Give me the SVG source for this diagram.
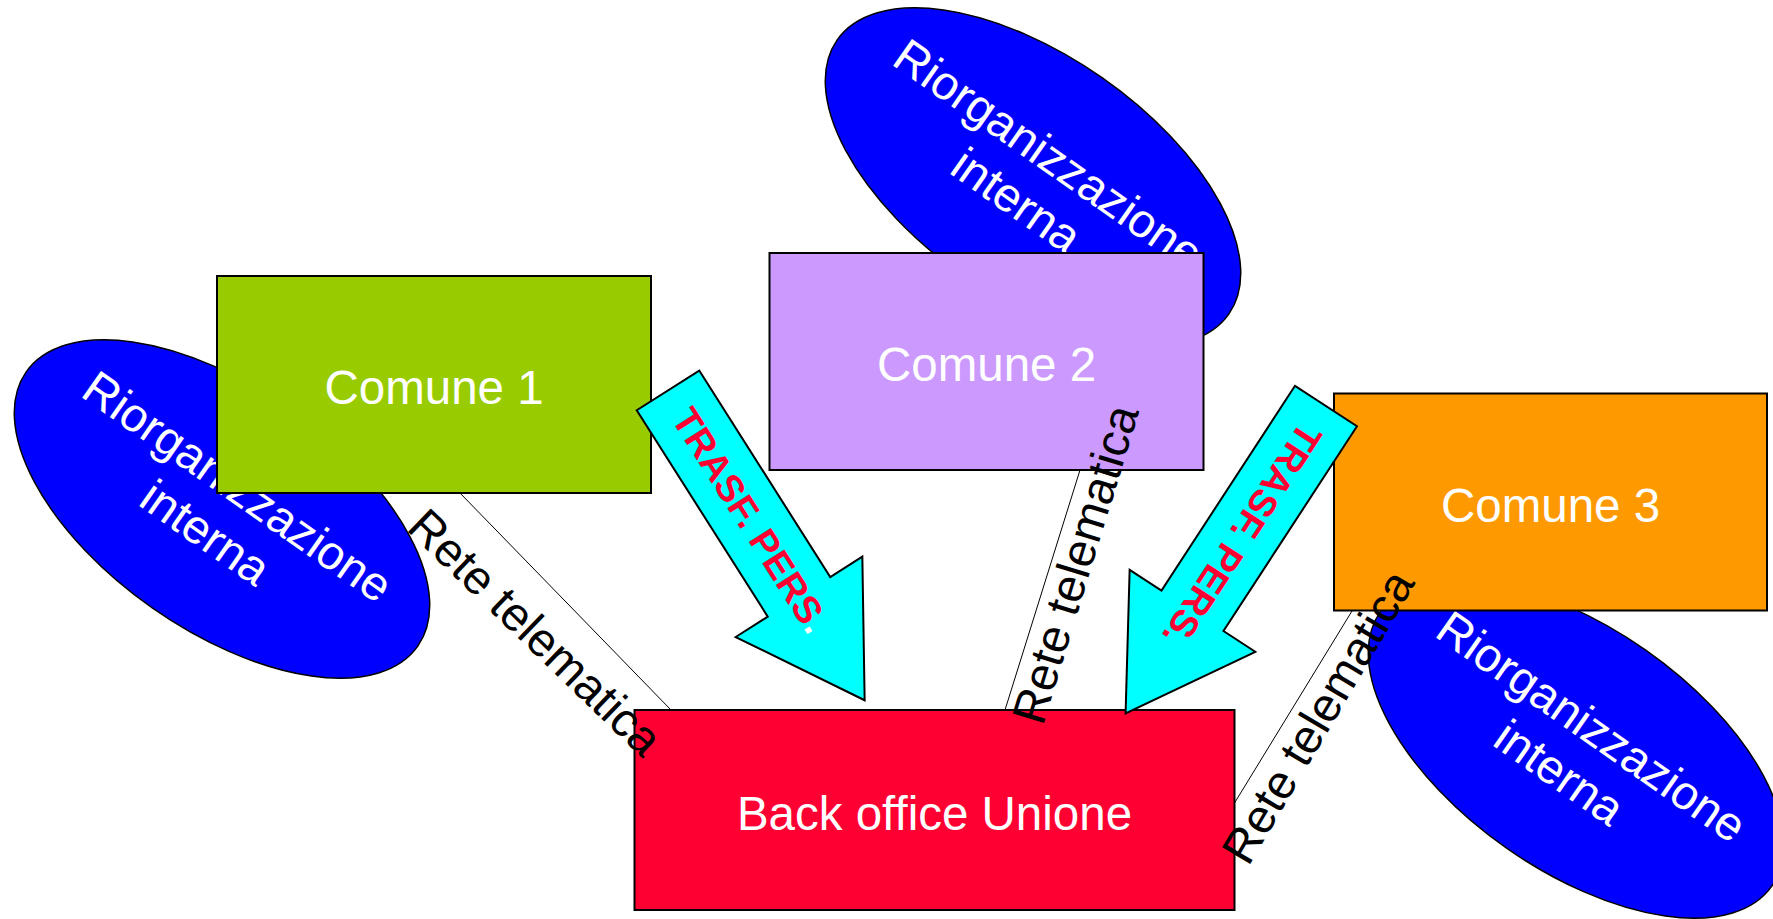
<svg xmlns="http://www.w3.org/2000/svg" width="1773" height="919" viewBox="0 0 1773 919">
<defs>
<style>
.ell{fill:#0000FF;stroke:#000;stroke-width:1.5}
.box{stroke:#000;stroke-width:2}
.wt{fill:#fff;font-family:"Liberation Sans",Arial,sans-serif;font-size:47.5px;text-anchor:middle}
.bt{fill:#000;font-family:"Liberation Sans",Arial,sans-serif;font-size:47.5px;text-anchor:middle}
.arr{fill:#00FFFF;stroke:#000;stroke-width:2;stroke-linejoin:miter}
.at{fill:#FF0033;font-family:"Liberation Sans",Arial,sans-serif;font-size:38px;font-weight:bold;text-anchor:middle}
.ln{stroke:#000;stroke-width:1;fill:none}
</style>
<path id="arrowShape" d="M0,-37 L244.5,-37 L244.5,-75 L367,0 L244.5,75 L244.5,37 L0,37 Z"/>
</defs>
<rect width="1773" height="919" fill="#fff"/>

<g id="riorg1" transform="translate(222,509) rotate(35)">
<ellipse class="ell" cx="0" cy="0" rx="239" ry="121"/>
<text class="wt"><tspan x="0" y="-11">Riorganizzazione</tspan><tspan x="0" y="45">interna</tspan></text>
</g>
<g id="comune1">
<rect class="box" x="217" y="276" width="434" height="217" fill="#99CC00"/>
<text class="wt" x="434" y="404">Comune 1</text>
</g>

<g id="riorg2" transform="translate(1033,177) rotate(35)">
<ellipse class="ell" cx="0" cy="0" rx="239" ry="121"/>
<text class="wt"><tspan x="0" y="-11">Riorganizzazione</tspan><tspan x="0" y="45">interna</tspan></text>
</g>
<g id="comune2">
<rect class="box" x="769.5" y="253" width="434" height="217" fill="#CC99FF"/>
<text class="wt" x="986.5" y="381">Comune 2</text>
</g>

<g id="riorg3" transform="translate(1576,749) rotate(35)">
<ellipse class="ell" cx="0" cy="0" rx="239" ry="121"/>
<text class="wt"><tspan x="0" y="-11">Riorganizzazione</tspan><tspan x="0" y="45">interna</tspan></text>
</g>
<g id="comune3">
<rect class="box" x="1334" y="393.5" width="433" height="217" fill="#FF9900"/>
<text class="wt" x="1550.5" y="522">Comune 3</text>
</g>

<g id="backoffice">
<rect class="box" x="634.5" y="710" width="600" height="200" fill="#FF0033"/>
<text class="wt" x="934.5" y="830">Back office Unione</text>
</g>

<g id="connectors">
<line class="ln" x1="460" y1="493" x2="671" y2="710"/>
<line class="ln" x1="1080" y1="470" x2="1005" y2="710"/>
<line class="ln" x1="1352" y1="611" x2="1234.5" y2="803"/>
<text class="bt" transform="translate(524,644) rotate(44)">Rete telematica</text>
<text class="bt" transform="translate(1091,569) rotate(-73)">Rete telematica</text>
<text class="bt" transform="translate(1332,725) rotate(-59.5)">Rete telematica</text>
</g>

<g id="arrow1" transform="translate(668,390.4) rotate(57.6)">
<use href="#arrowShape" class="arr"/>
<text class="at" x="154" y="13">TRASF. PERS<tspan fill="#fff">.</tspan></text>
</g>
<g id="arrow2" transform="translate(1326,406) rotate(123.1)">
<use href="#arrowShape" class="arr"/>
<text class="at" x="154" y="13">TRASF. PERS.</text>
</g>
</svg>
